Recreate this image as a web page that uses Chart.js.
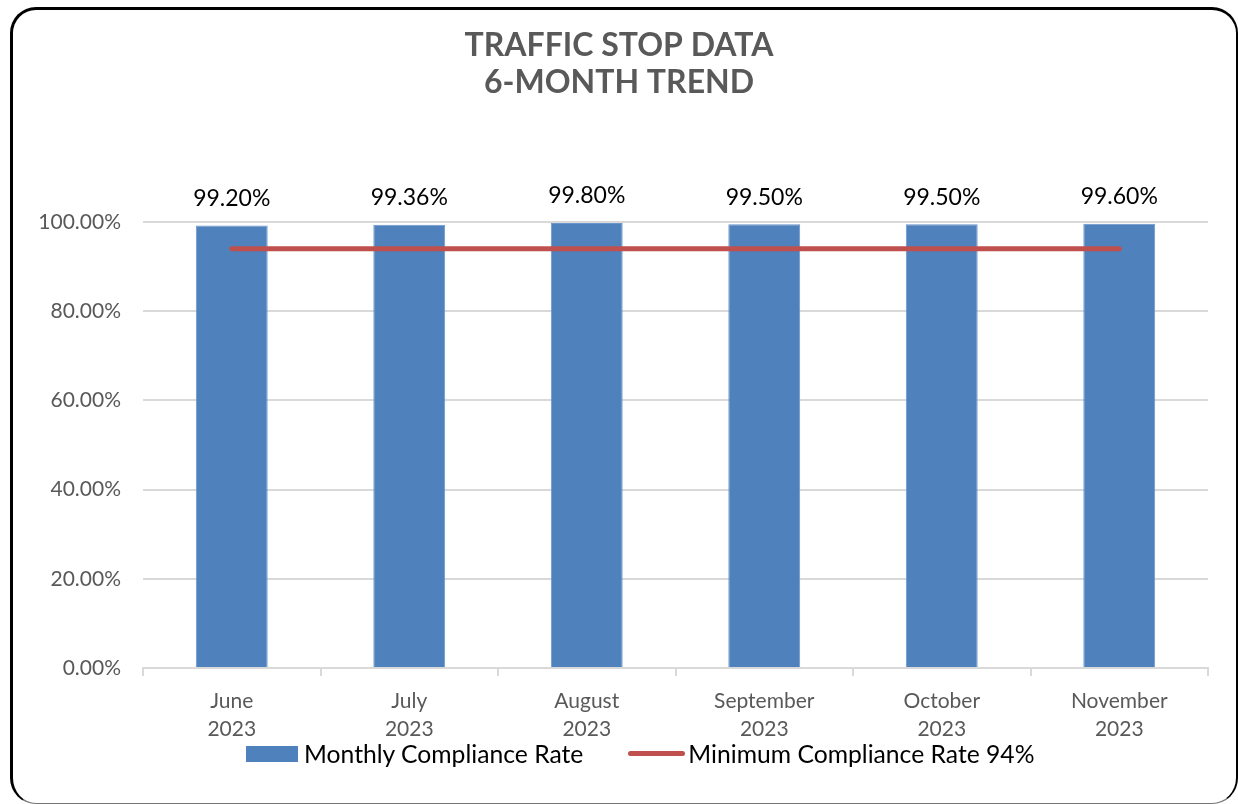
<!DOCTYPE html>
<html>
<head>
<meta charset="utf-8">
<script src="https://cdn.jsdelivr.net/npm/chart.js@4/dist/chart.umd.min.js"></script>
<style>
  html, body { margin: 0; padding: 0; background: #fff; }
  #wrap { position: relative; width: 1238px; height: 804px; overflow: hidden; font-family: Lato, "Open Sans", sans-serif; }
  #frame {
    position: absolute; left: 10px; top: 7px; width: 1228px; height: 797px;
    box-sizing: border-box; border: 3px solid #000; border-right-width: 2px;
    border-bottom: 1px solid #777; border-radius: 26px; pointer-events: none;
  }
  #c { position: absolute; left: 0; top: 0; }
  #legend { position: absolute; left: 246px; top: 739px; display: flex; align-items: center; font-size: 24.7px; color: #000; }
  .item { display: flex; align-items: center; white-space: nowrap; }
  .sw-bar { width: 52px; height: 16px; margin-right: 6px; }
  .sw-line { width: 57px; height: 5px; border-radius: 3px; margin-left: 45px; margin-right: 3px; }
</style>
</head>
<body>
<div id="wrap">
  <canvas id="c" width="1238" height="804"></canvas>
  <div id="frame"></div>
  <div id="legend"></div>
</div>
<script>
'use strict';

// ── data ──────────────────────────────────────────────────────────────────────
const months = [['June', '2023'], ['July', '2023'], ['August', '2023'],
                ['September', '2023'], ['October', '2023'], ['November', '2023']];
const complianceRate = [99.20, 99.36, 99.80, 99.50, 99.50, 99.60];
const minimumRate = [94, 94, 94, 94, 94, 94];
const yTicks = [0, 20, 40, 60, 80, 100];
const titleLines = ['TRAFFIC STOP DATA', '6-MONTH TREND'];

const BLUE = '#4F81BD';
const RED = '#C0504D';
const GRID = '#d9d9d9';
const TXT = '#595959';
const FONT = 'Lato, "Open Sans", sans-serif';

// value labels above bars
const barLabels = {
  id: 'barLabels',
  afterDatasetsDraw(chart) {
    const ctx = chart.ctx;
    const idx = chart.data.datasets.findIndex(d => d.type !== 'line');
    const meta = chart.getDatasetMeta(idx);
    ctx.save();
    ctx.font = '23px ' + FONT;
    ctx.fillStyle = '#000';
    ctx.textAlign = 'center';
    ctx.textBaseline = 'middle';
    meta.data.forEach((bar, i) => {
      ctx.fillText(complianceRate[i].toFixed(2) + '%', bar.x, bar.y - 27);
    });
    ctx.restore();
  }
};

const chart = new Chart(document.getElementById('c'), {
  type: 'bar',
  data: {
    labels: months,
    datasets: [
      {
        type: 'line',
        label: 'Minimum Compliance Rate 94%',
        data: minimumRate,
        borderColor: RED,
        backgroundColor: RED,
        borderWidth: 5,
        borderCapStyle: 'round',
        pointRadius: 0,
        order: 0,
      },
      {
        label: 'Monthly Compliance Rate',
        data: complianceRate,
        backgroundColor: BLUE,
        borderColor: '#6a96cb',
        borderWidth: 1,
        categoryPercentage: 1,
        barPercentage: 0.405,
        order: 1,
      },
    ]
  },
  options: {
    responsive: false,
    animation: false,
    layout: { padding: { left: 30, right: 30, top: 0, bottom: 56 } },
    plugins: {
      legend: { display: false },
      tooltip: { enabled: false },
      title: {
        display: true,
        text: titleLines,
        color: TXT,
        font: { family: FONT, size: 32, weight: 'bold', lineHeight: 37 / 32 },
        padding: { top: 27, bottom: 121 },
      },
    },
    scales: {
      x: {
        grid: { drawOnChartArea: false, drawTicks: true, tickLength: 8, color: GRID, lineWidth: 2, offset: true },
        border: { color: GRID, width: 2 },
        ticks: { color: TXT, font: { family: FONT, size: 21, lineHeight: 28 / 21 }, padding: 11, maxRotation: 0 },
        afterFit(scale) { scale.height = 80; },
      },
      y: {
        min: 0, max: 100,
        afterBuildTicks(scale) { scale.ticks = yTicks.map(v => ({ value: v })); },
        grid: { color: GRID, lineWidth: 2, drawTicks: false },
        border: { display: false },
        ticks: {
          color: TXT, padding: 22,
          font: { family: FONT, size: 21 },
          callback: v => v.toFixed(2) + '%',
        },
        afterFit(scale) { scale.width = 113; },
      },
    },
  },
  plugins: [barLabels],
});

// html legend (bar first, then line, as in the reference)
const legend = document.getElementById('legend');
[1, 0].forEach(i => {
  const ds = chart.data.datasets[i];
  const item = document.createElement('div');
  item.className = 'item';
  const sw = document.createElement('span');
  sw.className = ds.type === 'line' ? 'sw-line' : 'sw-bar';
  sw.style.background = ds.type === 'line' ? ds.borderColor : ds.backgroundColor;
  item.appendChild(sw);
  item.appendChild(document.createTextNode(ds.label));
  legend.appendChild(item);
});
</script>
</body>
</html>
